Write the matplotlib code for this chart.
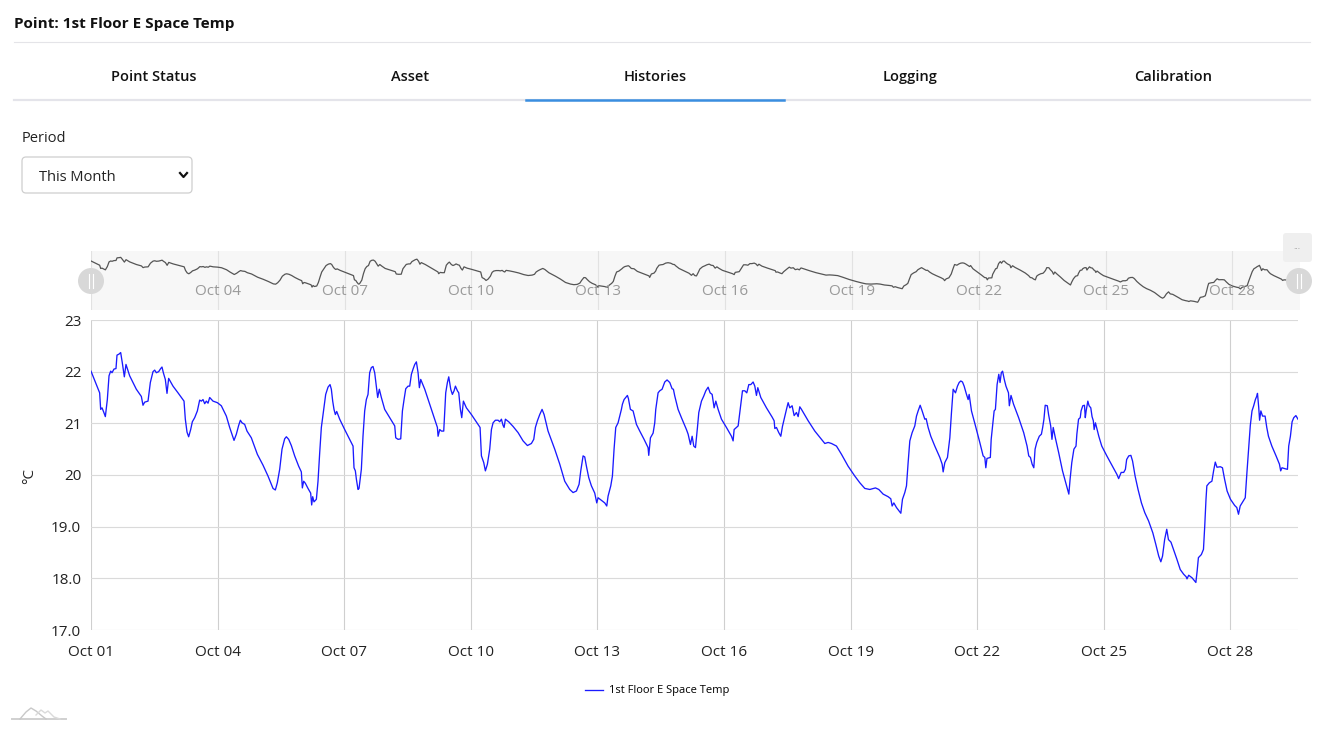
import matplotlib
matplotlib.use("Agg")
import matplotlib.pyplot as plt
import matplotlib.dates as mdates
from matplotlib.patches import FancyBboxPatch, Circle
from matplotlib.lines import Line2D
import pandas as pd

# ---- data ----
start = pd.Timestamp("2023-10-01")
series_name = "1st Floor E Space Temp"

days = [
    0.00, 0.205, 0.229, 0.261, 0.300, 0.340, 0.387, 0.427, 0.466, 0.498, 0.545, 0.592, 0.616, 0.664, 0.703,
    0.742, 0.790, 0.829, 0.916, 1.074, 1.193, 1.232, 1.272, 1.351, 1.406, 1.469, 1.509, 1.548, 1.603, 1.651,
    1.682, 1.714, 1.761, 1.801, 1.840, 1.943, 2.062, 2.204, 2.235, 2.275, 2.314, 2.362, 2.401, 2.457, 2.520,
    2.575, 2.615, 2.654, 2.694, 2.733, 2.773, 2.812, 2.891, 2.994, 3.088, 3.207, 3.286, 3.389, 3.444, 3.499,
    3.539, 3.578, 3.641, 3.697, 3.799, 3.942, 4.076, 4.194, 4.313, 4.368, 4.415, 4.471, 4.526, 4.589, 4.629,
    4.684, 4.747, 4.826, 4.921, 4.984, 5.008, 5.039, 5.079, 5.142, 5.205, 5.229, 5.253, 5.284, 5.340, 5.379,
    5.419, 5.458, 5.513, 5.561, 5.616, 5.664, 5.695, 5.727, 5.758, 5.790, 5.822, 5.893, 6.011, 6.130, 6.209,
    6.232, 6.264, 6.288, 6.327, 6.351, 6.406, 6.445, 6.485, 6.524, 6.564, 6.603, 6.643, 6.682, 6.722, 6.761,
    6.793, 6.832, 6.880, 6.959,
    7.078, 7.197, 7.221, 7.276, 7.339, 7.379, 7.418, 7.458, 7.513, 7.552, 7.592, 7.631, 7.671, 7.710, 7.750,
    7.781, 7.813, 7.908, 8.026, 8.145, 8.208, 8.224, 8.263, 8.303, 8.358, 8.405, 8.445, 8.477, 8.524, 8.563,
    8.603, 8.635, 8.682, 8.714, 8.753, 8.785, 8.824, 8.895, 9.014, 9.172, 9.219, 9.251, 9.306, 9.345, 9.393,
    9.448, 9.488, 9.527, 9.582, 9.646, 9.685, 9.725, 9.764, 9.788, 9.819, 9.898, 10.001, 10.120, 10.238, 10.341,
    10.435, 10.491, 10.530, 10.578, 10.633, 10.688, 10.736, 10.830, 10.988, 11.107, 11.225, 11.344, 11.423,
    11.502, 11.565, 11.605, 11.660, 11.699, 11.739, 11.794, 11.857, 11.936, 11.984, 12.015, 12.094, 12.173,
    12.221, 12.252, 12.316, 12.355, 12.394, 12.434, 12.489, 12.529, 12.568, 12.592, 12.631, 12.671, 12.710,
    12.734, 12.781, 12.845, 12.924, 13.003, 13.105, 13.200, 13.216, 13.256, 13.319, 13.358, 13.382, 13.437,
    13.477, 13.532, 13.595, 13.650, 13.714, 13.769, 13.800, 13.832, 13.911, 13.990, 14.109,
    14.149, 14.204, 14.244, 14.283, 14.323, 14.370, 14.402, 14.465, 14.520, 14.568, 14.623, 14.670, 14.718,
    14.765, 14.805, 14.860, 14.939, 15.057, 15.176, 15.215, 15.239, 15.294, 15.334, 15.373, 15.437, 15.492,
    15.539, 15.587, 15.634, 15.689, 15.729, 15.768, 15.800, 15.871, 16.005, 16.140, 16.187, 16.203, 16.242,
    16.297, 16.345, 16.384, 16.440, 16.479, 16.519, 16.558, 16.613, 16.661, 16.716, 16.756, 16.795, 16.835,
    16.993, 17.151, 17.309, 17.388, 17.467, 17.546, 17.664, 17.783, 17.940, 18.098, 18.217, 18.335, 18.454,
    18.588, 18.667, 18.770, 18.888, 18.951, 18.983, 19.023, 19.086, 19.189, 19.228, 19.283, 19.323, 19.362,
    19.402, 19.457, 19.520, 19.560, 19.599, 19.647, 19.694, 19.757, 19.789, 19.836, 19.899, 19.994, 20.113,
    20.168, 20.192, 20.231, 20.294, 20.350, 20.389, 20.429, 20.484, 20.531, 20.571, 20.610, 20.650, 20.689,
    20.745, 20.784, 20.808, 20.863, 20.958, 21.060, 21.139, 21.179, 21.203,
    21.23, 21.31, 21.33, 21.36, 21.40, 21.43, 21.47, 21.51, 21.54, 21.57, 21.60, 21.64, 21.68, 21.74, 21.76,
    21.80, 21.86, 21.98, 22.10, 22.18, 22.22, 22.26, 22.30, 22.34, 22.37, 22.41, 22.47, 22.52, 22.55, 22.58,
    22.61, 22.66, 22.69, 22.74, 22.77, 22.80, 22.85, 22.93, 23.02, 23.13, 23.17, 23.20, 23.24, 23.29, 23.34,
    23.36, 23.40, 23.44, 23.46, 23.50, 23.54, 23.56, 23.58, 23.62, 23.65, 23.69, 23.72, 23.75, 23.77, 23.80,
    23.88, 23.95, 24.07, 24.19, 24.31, 24.35, 24.41, 24.47, 24.51, 24.54, 24.59, 24.64, 24.68, 24.74, 24.81,
    24.89, 24.97, 25.06, 25.16, 25.23, 25.30, 25.35, 25.39, 25.44, 25.49, 25.53, 25.59, 25.65, 25.73, 25.81,
    25.89, 25.95, 25.97, 26.01, 26.09, 26.15, 26.18, 26.21, 26.24, 26.31, 26.36, 26.39, 26.42, 26.44, 26.50,
    26.56, 26.60, 26.64, 26.68, 26.76, 26.81, 26.86, 26.92, 27.00, 27.10, 27.15, 27.19, 27.23, 27.29, 27.35,
    27.39, 27.43, 27.47, 27.51, 27.55, 27.59, 27.62, 27.64, 27.67, 27.69, 27.72, 27.76, 27.82, 27.86, 27.90,
    27.98, 28.08, 28.16, 28.19, 28.22, 28.30, 28.35, 28.38, 28.42, 28.46, 28.50, 28.55, 28.60,
]

temps = [
    22.01, 21.59, 21.27, 21.30, 21.22, 21.13, 21.46, 21.92, 22.01, 21.98, 22.05, 22.06, 22.32, 22.34, 22.37,
    22.17, 21.90, 22.14, 21.92, 21.66, 21.52, 21.35, 21.41, 21.43, 21.79, 22.00, 22.03, 21.98, 22.00, 22.06,
    22.09, 21.98, 21.85, 21.58, 21.87, 21.72, 21.59, 21.43, 21.08, 20.83, 20.74, 20.88, 21.03, 21.11, 21.24,
    21.45, 21.43, 21.46, 21.38, 21.43, 21.39, 21.50, 21.43, 21.40, 21.34, 21.14, 20.92, 20.67, 20.79, 20.96,
    21.06, 21.01, 20.98, 20.85, 20.72, 20.40, 20.19, 19.98, 19.74, 19.71, 19.85, 20.11, 20.50, 20.70, 20.74,
    20.69, 20.57, 20.37, 20.17, 20.06, 19.75, 19.88, 19.84, 19.74, 19.65, 19.42, 19.58, 19.48, 19.53, 19.88,
    20.43, 20.92, 21.27, 21.56, 21.70, 21.75, 21.66, 21.43, 21.27, 21.17, 21.23, 21.08, 20.88, 20.69, 20.56,
    20.14, 20.08, 19.92, 19.72, 19.74, 20.11, 20.75, 21.24, 21.46, 21.56, 21.98, 22.08, 22.10, 21.98, 21.72,
    21.50, 21.66, 21.50, 21.27,
    21.11, 20.95, 20.72, 20.69, 20.70, 21.24, 21.46, 21.67, 21.72, 21.72, 21.95, 22.05, 22.14, 22.19, 21.98,
    21.69, 21.85, 21.66, 21.37, 21.08, 20.92, 20.75, 20.88, 20.85, 20.85, 21.59, 21.79, 21.90, 21.66, 21.56,
    21.63, 21.72, 21.63, 21.59, 21.27, 21.11, 21.43, 21.30, 21.17, 20.98, 20.92, 20.37, 20.24, 20.08, 20.21,
    20.50, 20.88, 21.01, 21.06, 21.06, 21.03, 21.08, 20.96, 20.92, 21.08, 21.03, 20.94, 20.82, 20.66, 20.57,
    20.61, 20.69, 20.92, 21.05, 21.17, 21.27, 21.17, 20.85, 20.50, 20.21, 19.88, 19.72, 19.66,
    19.69, 19.82, 20.08, 20.37, 20.35, 20.17, 19.95, 19.79, 19.65, 19.46, 19.56, 19.51, 19.46,
    19.40, 19.59, 19.79, 19.98, 20.50, 20.92, 21.01, 21.14, 21.27, 21.37, 21.46, 21.50, 21.54,
    21.48, 21.27, 21.24, 20.98, 20.85, 20.69, 20.53, 20.38, 20.72, 20.81, 21.01, 21.27, 21.59,
    21.63, 21.66, 21.80, 21.84, 21.79, 21.67, 21.66, 21.53, 21.27, 21.11, 20.88,
    20.79, 20.59, 20.75, 20.56, 20.53, 20.92, 21.21, 21.43, 21.53, 21.63, 21.70, 21.59, 21.56,
    21.30, 21.43, 21.27, 21.08, 20.92, 20.75, 20.66, 20.88, 20.92, 20.95, 21.21, 21.63, 21.63,
    21.59, 21.75, 21.75, 21.80, 21.72, 21.54, 21.69, 21.50, 21.30, 21.12, 21.05, 20.90, 20.92,
    20.82, 20.75, 20.94, 21.14, 21.27, 21.40, 21.30, 21.34, 21.15, 21.21, 21.13, 21.32, 21.27,
    21.05, 20.85, 20.69, 20.61, 20.63, 20.61, 20.56, 20.40, 20.17, 19.98, 19.85, 19.74, 19.72,
    19.75, 19.72, 19.63, 19.58, 19.54, 19.40, 19.46, 19.37, 19.26, 19.53, 19.66, 19.79, 20.24,
    20.66, 20.82, 20.95, 21.14, 21.24, 21.35, 21.24, 21.08, 21.09, 20.92, 20.75, 20.56, 20.34,
    20.21, 20.06, 20.24, 20.34, 20.72, 21.21, 21.66, 21.59, 21.72, 21.79, 21.82, 21.80, 21.72,
    21.56, 21.46, 21.56, 21.24, 20.95, 20.63, 20.37, 20.34, 20.14,
    20.32, 20.34, 20.69, 20.92, 21.24, 21.27, 21.75, 21.95, 21.79, 21.98, 22.01, 21.85, 21.72, 21.59, 21.34,
    21.54, 21.37, 21.11, 20.82, 20.56, 20.37, 20.34, 20.21, 20.14, 20.50, 20.63, 20.75, 20.79, 20.92, 21.08,
    21.35, 21.34, 21.17, 20.95, 20.69, 20.92, 20.72, 20.43, 20.08, 19.75, 19.63, 19.92, 20.24, 20.50, 20.56,
    20.79, 21.08, 21.11, 21.24, 21.34, 21.35, 21.11, 21.24, 21.43, 21.34, 21.30, 21.13, 21.05, 20.88, 21.01,
    20.75, 20.56, 20.37, 20.19, 20.01, 19.93, 20.05, 20.05, 20.11, 20.30, 20.37, 20.38, 20.27, 19.98, 19.72,
    19.46, 19.27, 19.11, 18.88, 18.66, 18.43, 18.32, 18.43, 18.75, 18.95, 18.75, 18.70, 18.56, 18.37, 18.17,
    18.08, 18.03, 17.99, 18.06, 18.01, 17.95, 17.92, 18.14, 18.40, 18.46, 18.56, 19.01, 19.53, 19.79, 19.85,
    19.88, 20.08, 20.25, 20.15, 20.16, 20.14, 19.92, 19.69, 19.53, 19.41, 19.37, 19.24, 19.40, 19.48, 19.56,
    20.05, 20.50, 20.96, 21.24, 21.34, 21.46, 21.52, 21.58, 21.30, 21.06, 21.24, 21.14, 21.14, 20.92, 20.75,
    20.56, 20.37, 20.21, 20.08, 20.14, 20.12, 20.11, 20.56, 20.75, 21.03, 21.11, 21.15, 21.08,
]

y_ticks = [17, 18, 19, 20, 21, 22, 23]
y_tick_labels = ["17.0", "18.0", "19.0", "20", "21", "22", "23"]
tab_names = ["Point Status", "Asset", "Histories", "Logging", "Calibration"]

times = start + pd.to_timedelta(days, unit="D")

# ---- figure / helpers (pixel -> figure fraction) ----
W, H = 1318, 730
plt.rcParams["font.family"] = ["Open Sans", "DejaVu Sans"]
fig = plt.figure(figsize=(W / 100, H / 100), dpi=100)
fig.patch.set_facecolor("white")


def fx(x):
    return x / W


def fy(y):
    return 1 - y / H


def hline(x0, x1, y, color, lw):
    fig.add_artist(Line2D([fx(x0), fx(x1)], [fy(y), fy(y)], transform=fig.transFigure, color=color, lw=lw))


# header
fig.text(fx(14), fy(24), "Point: 1st Floor E Space Temp", fontsize=11, fontweight="bold",
         ha="left", va="center", color="#111111")
hline(14, 1310, 42, "#e4e4e8", 0.8)

tab_x = [154, 410, 655, 910, 1173]
for name, tx in zip(tab_names, tab_x):
    fig.text(fx(tx), fy(77), name, fontsize=10.5, fontweight="semibold", ha="center", va="center", color="#111111")
hline(14, 1310, 100, "#e4e4ea", 1.6)
hline(526, 784, 100, "#3a8ee0", 1.8)

# period selector
fig.text(fx(22), fy(139), "Period", fontsize=10.5, ha="left", va="center", color="#222222")
box = FancyBboxPatch((22 / 100, (H - 193) / 100), 1.70, 0.36, boxstyle="round,pad=0,rounding_size=0.04",
                     transform=fig.dpi_scale_trans, facecolor="white", edgecolor="#cfcfcf", lw=0.9)
fig.patches.append(box)
fig.text(fx(39), fy(177.5), "This Month", fontsize=10.5, ha="left", va="center", color="#222222")
fig.add_artist(Line2D([fx(180), fx(183.5), fx(187)], [fy(173), fy(177), fy(173)],
                      transform=fig.transFigure, color="#111111", lw=1.6))

# ---- navigator (mini chart) ----
axm = fig.add_axes([fx(91), fy(310), (1300 - 91) / W, (310 - 251) / H])
axm.set_facecolor("#f7f7f7")
axm.plot(times, temps, color="#555555", lw=0.9)
axm.set_xlim(times[0], times[-1])
axm.set_ylim(17.15, 23.0)
axm.xaxis.set_major_locator(mdates.DayLocator(bymonthday=range(1, 29, 3)))
axm.grid(axis="x", color="#e2e2e2", lw=0.8)
axm.tick_params(length=0, labelbottom=False, labelleft=False)
for s in axm.spines.values():
    s.set_visible(False)
for d in mdates.num2date(axm.get_xticks()):
    if d.day == 1:
        continue
    axm.text(d, 0.32, d.strftime("%b %d"), transform=axm.get_xaxis_transform(), ha="center", va="center",
             fontsize=11, color="#9a9a9a")

for hx in (91, 1299):
    fig.patches.append(Circle((hx / 100, (H - 281) / 100), 0.13, transform=fig.dpi_scale_trans,
                              facecolor="#d8d8d8", edgecolor="none"))
    for dx in (-2, 2):
        fig.add_artist(Line2D([fx(hx + dx), fx(hx + dx)], [fy(274), fy(288)], transform=fig.transFigure,
                              color="white", lw=0.8))

btn = FancyBboxPatch((1283 / 100, (H - 262) / 100), 0.29, 0.29, boxstyle="round,pad=0,rounding_size=0.03",
                     transform=fig.dpi_scale_trans, facecolor="#efefef", edgecolor="none")
fig.patches.append(btn)
fig.text(fx(1297), fy(246), "...", fontsize=6.5, ha="center", va="center", color="#8a8a8a")

# ---- main chart ----
ax = fig.add_axes([fx(91), fy(630), (1298 - 91) / W, (630 - 320) / H])
line, = ax.plot(times, temps, color="#1a1aff", lw=0.95, label=series_name)
ax.set_xlim(times[0], times[-1])
ax.set_ylim(y_ticks[0], y_ticks[-1])
ax.set_yticks(y_ticks)
ax.set_yticklabels(y_tick_labels)
ax.xaxis.set_major_locator(mdates.DayLocator(bymonthday=range(1, 29, 3)))
ax.xaxis.set_major_formatter(mdates.DateFormatter("%b %d"))
ax.grid(axis="y", color="#dadada", lw=0.8)
ax.grid(axis="x", color="#cfcfcf", lw=0.8)
ax.set_axisbelow(True)
for s in ax.spines.values():
    s.set_visible(False)
ax.tick_params(axis="x", length=0, pad=11, labelsize=11, labelcolor="#222222")
ax.tick_params(axis="y", length=0, pad=7, labelsize=11, labelcolor="#222222")

fig.text(fx(30), fy(476), "°C", fontsize=11, rotation=90, ha="center", va="center", color="#222222")

fig.legend(handles=[line], loc="center", bbox_to_anchor=(fx(657), fy(691)), frameon=False,
           fontsize=8, handlelength=1.7, handletextpad=0.5)

# little logo bottom-left
fig.add_artist(Line2D([fx(12), fx(66)], [fy(719), fy(719)], transform=fig.transFigure, color="#d0d0d0", lw=1.4))
fig.add_artist(Line2D([fx(20), fx(26), fx(31), fx(36), fx(42), fx(46)],
                      [fy(719), fy(712), fy(708), fy(711), fy(716), fy(719)],
                      transform=fig.transFigure, color="#c8c8c8", lw=1.0))
fig.add_artist(Line2D([fx(36), fx(41), fx(45), fx(48), fx(54), fx(60)],
                      [fy(715), fy(710), fy(713), fy(711), fy(717), fy(719)],
                      transform=fig.transFigure, color="#dadada", lw=1.0))

fig.savefig("out.png", dpi=100)
